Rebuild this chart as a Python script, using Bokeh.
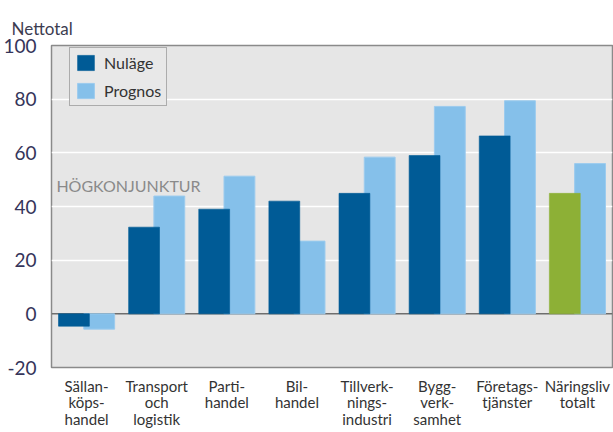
from bokeh.plotting import figure
from bokeh.models import (ColumnDataSource, Range1d, FixedTicker, Span, Label,
                          Legend, LegendItem, Title)
from bokeh.embed import file_html
from bokeh.resources import INLINE

categories = ["Sällan-\nköps-\nhandel", "Transport\noch\nlogistik", "Parti-\nhandel",
              "Bil-\nhandel", "Tillverk-\nnings-\nindustri", "Bygg-\nverk-\nsamhet",
              "Företags-\ntjänster", "Näringsliv\ntotalt"]
nulage = [-4.6, 32.3, 39.0, 42.0, 44.9, 59.0, 66.3, 44.9]
prognos = [-5.7, 43.9, 51.3, 27.1, 58.4, 77.3, 79.4, 56.0]
nulage_colors = ["#005b96"] * 7 + ["#8db036"]
y_ticks = [-20, 0, 20, 40, 60, 80, 100]

FONT = "Lato"
xs = list(range(len(categories)))
off = 0.18
src = ColumnDataSource(dict(
    xn=[x - off for x in xs], xp=[x + off for x in xs],
    nulage=nulage, prognos=prognos, col=nulage_colors))

p = figure(frame_width=561, frame_height=322, output_backend="svg",
           toolbar_location=None,
           x_range=Range1d(-0.5, 7.5), y_range=Range1d(-20, 100),
           min_border_left=50, min_border_right=2, min_border_top=45,
           min_border_bottom=65, title=None)
p.background_fill_color = "#e6e6e6"
p.border_fill_color = "white"
p.outline_line_color = "#8a8a8a"
p.outline_line_width = 1.5

p.add_layout(Title(text="Nettotal", align="left", offset=-40, standoff=13,
                   text_font=FONT, text_font_size="17px",
                   text_font_style="normal", text_color="#3c3c50"), "above")

p.xgrid.visible = False
p.ygrid.ticker = FixedTicker(ticks=[20, 40, 60, 80])
p.ygrid.grid_line_color = "white"
p.ygrid.grid_line_width = 1.5

zero = Span(location=0, dimension="width", line_color="#6e6e6e", line_width=1.5,
            level="underlay")
p.add_layout(zero)

rp = p.vbar(x="xp", top="prognos", bottom=0, width=0.44, source=src,
            fill_color="#85c0ea", line_color="#9ccbee", line_width=1)
rn = p.vbar(x="xn", top="nulage", bottom=0, width=0.44, source=src,
            fill_color="col", line_color="col", line_alpha=0.6, line_width=1)

p.yaxis.ticker = FixedTicker(ticks=y_ticks)
p.yaxis.major_label_overrides = {t: str(t) for t in y_ticks}
p.yaxis.axis_line_color = None
p.yaxis.major_tick_line_color = None
p.yaxis.minor_tick_line_color = None
p.yaxis.major_label_text_font = FONT
p.yaxis.major_label_text_font_size = "19px"
p.yaxis.major_label_text_color = "#35355a"
p.yaxis.major_label_standoff = 9

p.xaxis.ticker = FixedTicker(ticks=xs)
p.xaxis.major_label_overrides = {i: c for i, c in enumerate(categories)}
p.xaxis.axis_line_color = None
p.xaxis.major_tick_line_color = None
p.xaxis.minor_tick_line_color = None
p.xaxis.major_label_text_font = FONT
p.xaxis.major_label_text_font_size = "15px"
p.xaxis.major_label_text_color = "#333333"
p.xaxis.major_label_text_line_height = 0.92
p.xaxis.major_label_standoff = 3

legend = Legend(items=[LegendItem(label="Nuläge", renderers=[rn], index=0),
                       LegendItem(label="Prognos", renderers=[rp])],
                location=(18, 261), orientation="vertical",
                background_fill_color="#e8e8e8", background_fill_alpha=1,
                border_line_color="#707070", border_line_width=1.5,
                label_text_font=FONT, label_text_font_size="16px",
                label_text_color="#333333", glyph_width=21, glyph_height=19,
                label_standoff=8, padding=5, spacing=9, margin=0)
p.add_layout(legend)

p.add_layout(Label(x=-0.43, y=48, text="HÖGKONJUNKTUR", text_font=FONT,
                   text_font_size="16px", text_color="#8a8a8a",
                   text_baseline="middle"))

open("out.html", "w").write(file_html(p, INLINE))
